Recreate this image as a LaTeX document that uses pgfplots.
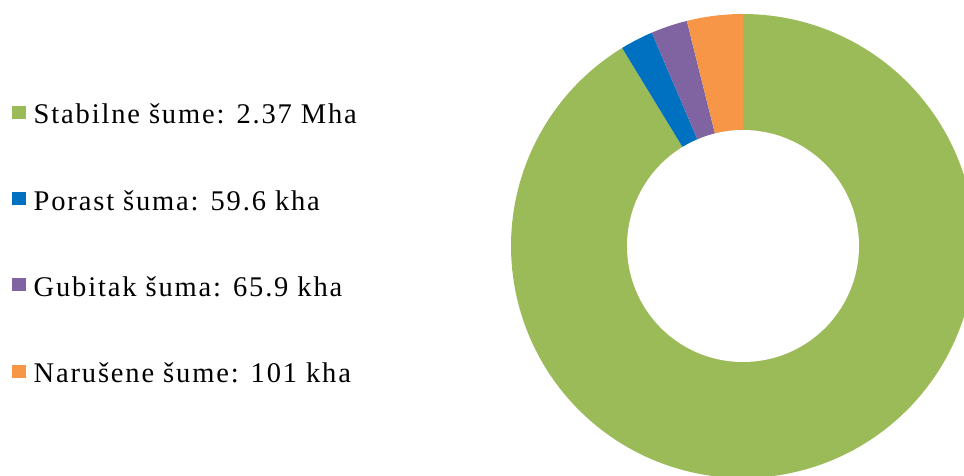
\documentclass[border=0pt]{standalone}
\usepackage{fontspec}
\setmainfont{Liberation Serif}
\newfontfamily\legfont{Liberation Serif}[LetterSpace=6.5]
\usepackage{pgfplots}
\pgfplotsset{compat=1.18}
\definecolor{cG}{HTML}{9BBB59}
\definecolor{cB}{HTML}{0070C0}
\definecolor{cP}{HTML}{8064A2}
\definecolor{cO}{HTML}{F79646}
% data (kha)
\def\vA{2370}
\def\vB{59.6}
\def\vC{65.9}
\def\vD{101}
\pgfmathsetmacro\tot{\vA+\vB+\vC+\vD}
\pgfmathsetmacro\aA{90}
\pgfmathsetmacro\aB{\aA-\vA/\tot*360}
\pgfmathsetmacro\aC{\aB-\vB/\tot*360}
\pgfmathsetmacro\aD{\aC-\vC/\tot*360}
\pgfmathsetmacro\aE{\aD-\vD/\tot*360}
\def\cx{743}
\def\cy{229}
\def\R{232}
\def\r{116}
\begin{document}
\begin{tikzpicture}
\begin{axis}[
  scale only axis, width=964pt, height=475pt,
  xmin=0, xmax=964, ymin=0, ymax=475,
  hide axis, clip=true,
  legend image code/.code={\fill[#1] (0pt,-5pt) rectangle (14pt,8pt);},
  legend cell align=left,
  legend style={at={(axis cs:12,371.5)}, anchor=north west, draw=none, fill=none,
    font=\legfont\fontsize{28.5}{33}\selectfont,
    inner sep=0pt, row sep=66.3pt, column sep=7.5pt,
    nodes={inner sep=0pt, text height=20pt, text depth=0pt}},
]
\addplot[fill=cG, draw=none, domain=\aB:\aA, samples=200, variable=\t]
  ({\cx+\R*cos(\t)},{\cy+\R*sin(\t)}) -- (axis cs:\cx,\cy) -- cycle;
\addlegendentry{Stabilne šume: 2.37 Mha}
\addplot[fill=cB, draw=none, domain=\aC:\aB, samples=20, variable=\t]
  ({\cx+\R*cos(\t)},{\cy+\R*sin(\t)}) -- (axis cs:\cx,\cy) -- cycle;
\addlegendentry{Porast šuma: 59.6 kha}
\addplot[fill=cP, draw=none, domain=\aD:\aC, samples=20, variable=\t]
  ({\cx+\R*cos(\t)},{\cy+\R*sin(\t)}) -- (axis cs:\cx,\cy) -- cycle;
\addlegendentry{Gubitak šuma: 65.9 kha}
\addplot[fill=cO, draw=none, domain=\aE:\aD, samples=20, variable=\t]
  ({\cx+\R*cos(\t)},{\cy+\R*sin(\t)}) -- (axis cs:\cx,\cy) -- cycle;
\addlegendentry{Narušene šume: 101 kha}
\addplot[fill=white, draw=none, domain=0:360, samples=200, variable=\t, forget plot]
  ({\cx+\r*cos(\t)},{\cy+\r*sin(\t)}) -- cycle;
\end{axis}
\pgfresetboundingbox
\path (0,0) rectangle (964pt,475pt);
\end{tikzpicture}
\end{document}
